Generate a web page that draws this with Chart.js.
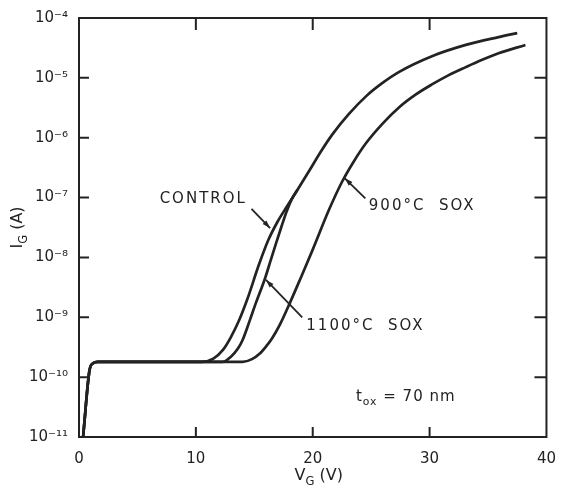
<!DOCTYPE html>
<html>
<head>
<meta charset="utf-8">
<script src="https://cdn.jsdelivr.net/npm/chart.js@4.4.0/dist/chart.umd.min.js"></script>
<style>
  html, body { margin: 0; padding: 0; background: #fff; }
</style>
</head>
<body>
<canvas id="igChart" width="561" height="491"></canvas>
<script>
// gate current vs gate voltage
const control_v = [0.35, 0.9, 1.2, 1.6, 6, 10.5, 11.5, 12.3, 13.0, 13.7, 14.4, 15.4, 16.2, 17.0, 17.75, 18.7, 19.7, 20.7, 21.7, 23.1, 24.6, 26.0, 27.4, 30.2, 33.1, 35.9, 37.5]
const control_i = [1e-11, 1.3e-10, 1.7e-10, 1.8e-10, 1.8e-10, 1.8e-10, 2.04e-10, 2.82e-10, 4.68e-10, 8.9e-10, 2.0e-9, 7.6e-9, 1.95e-8, 3.98e-8, 6.9e-8, 1.35e-7, 2.8e-7, 5.9e-7, 1.15e-6, 2.5e-6, 5.0e-6, 8.3e-6, 1.26e-5, 2.3e-5, 3.55e-5, 4.8e-5, 5.6e-5]

const sox1100_v = [0.35, 0.9, 1.2, 1.6, 6, 12.3, 13.0, 13.6, 14.0, 14.6, 15.1, 15.9, 16.4, 16.9, 17.3, 17.75, 18.2, 18.7]
const sox1100_i = [1e-11, 1.3e-10, 1.7e-10, 1.8e-10, 1.8e-10, 1.8e-10, 2.19e-10, 3.0e-10, 4.17e-10, 8.7e-10, 1.66e-9, 4.37e-9, 8.9e-9, 1.82e-8, 3.16e-8, 5.75e-8, 9.3e-8, 1.35e-7]

const sox900_v = [0.35, 0.9, 1.2, 1.6, 6, 14.0, 14.8, 15.5, 16.0, 16.5, 17.2, 18.0, 19.0, 20.0, 21.4, 22.5, 23.5, 24.6, 26.0, 27.4, 28.8, 30.2, 31.6, 33.1, 34.5, 35.9, 38.2]
const sox900_i = [1e-11, 1.3e-10, 1.7e-10, 1.8e-10, 1.8e-10, 1.8e-10, 2.0e-10, 2.51e-10, 3.24e-10, 4.37e-10, 7.6e-10, 1.66e-9, 4.68e-9, 1.35e-8, 6.3e-8, 1.82e-7, 3.98e-7, 8.3e-7, 1.74e-6, 3.24e-6, 5.25e-6, 7.76e-6, 1.1e-5, 1.51e-5, 2.0e-5, 2.57e-5, 3.55e-5]

const x_ticks = [0, 10, 20, 30, 40]
const y_ticks = [1e-11, 1e-10, 1e-9, 1e-8, 1e-7, 1e-6, 1e-5, 1e-4]

// callouts, anchored in data units (V, A)
const callouts = [
  { text: 'CONTROL', at: [6.9, 9.5e-8], from: [14.76, 6.5e-8], to: [16.35, 3.1e-8] },
  { text: '900°C  SOX', at: [24.8, 7.2e-8], from: [24.5, 9.7e-8], to: [22.75, 2.1e-7] },
  { text: '1100°C  SOX', at: [19.45, 7.1e-10], from: [19.1, 1.0e-9], to: [16.0, 4.2e-9] },
]

const ink = '#232323'
const font_family = "'DejaVu Sans', sans-serif"

const sup = { '-': '\u207B', '0': '\u2070', '1': '\u00B9', '2': '\u00B2', '3': '\u00B3', '4': '\u2074',
  '5': '\u2075', '6': '\u2076', '7': '\u2077', '8': '\u2078', '9': '\u2079' }

function pairs(xs, ys) {
  return xs.map((v, i) => ({ x: v, y: ys[i] }))
}

function curve(label, xs, ys) {
  return {
    label: label,
    data: pairs(xs, ys),
    borderColor: ink,
    borderWidth: 2.7,
    pointRadius: 0,
    fill: false,
    showLine: true,
    cubicInterpolationMode: 'monotone',
  }
}

// draws text made of [string, isSubscript] pieces
function drawPieces(ctx, pieces, x, y, size, align) {
  const widths = pieces.map(p => {
    ctx.font = (p[1] ? size * 0.72 : size) + 'px ' + font_family
    return ctx.measureText(p[0]).width
  })
  const total = widths.reduce((a, b) => a + b, 0)
  let cx = align === 'center' ? x - total / 2 : x
  pieces.forEach((p, i) => {
    ctx.font = (p[1] ? size * 0.72 : size) + 'px ' + font_family
    ctx.fillText(p[0], cx, p[1] ? y + size * 0.35 : y)
    cx += widths[i]
  })
}

function arrow(ctx, x1, y1, x2, y2) {
  ctx.beginPath()
  ctx.moveTo(x1, y1)
  ctx.lineTo(x2, y2)
  ctx.stroke()
  const ang = Math.atan2(y2 - y1, x2 - x1)
  const len = 8, half = 2.6
  ctx.beginPath()
  ctx.moveTo(x2, y2)
  ctx.lineTo(x2 - len * Math.cos(ang) + half * Math.sin(ang), y2 - len * Math.sin(ang) - half * Math.cos(ang))
  ctx.lineTo(x2 - len * Math.cos(ang) - half * Math.sin(ang), y2 - len * Math.sin(ang) + half * Math.cos(ang))
  ctx.closePath()
  ctx.fill()
}

const overlay = {
  id: 'overlay',
  afterDraw(chart) {
    const ctx = chart.ctx
    const a = chart.chartArea
    const x = chart.scales.x
    const y = chart.scales.y
    ctx.save()
    ctx.strokeStyle = ink
    ctx.fillStyle = ink
    ctx.lineWidth = 2

    // frame
    ctx.strokeRect(a.left, a.top, a.right - a.left, a.bottom - a.top)

    // inward tick marks on all four sides
    ctx.beginPath()
    x.ticks.forEach(t => {
      if (t.value <= x.min || t.value >= x.max) return
      const px = x.getPixelForValue(t.value)
      ctx.moveTo(px, a.bottom); ctx.lineTo(px, a.bottom - 10)
      ctx.moveTo(px, a.top); ctx.lineTo(px, a.top + 12)
    })
    y.ticks.forEach(t => {
      if (t.value <= y.min || t.value >= y.max) return
      const py = y.getPixelForValue(t.value)
      ctx.moveTo(a.left, py); ctx.lineTo(a.left + 10, py)
      ctx.moveTo(a.right, py); ctx.lineTo(a.right - 12, py)
    })
    ctx.stroke()

    // axis titles
    ctx.textBaseline = 'middle'
    drawPieces(ctx, [['V', false], ['G', true], [' (V)', false]], (a.left + a.right) / 2 + 6, 476, 16, 'center')
    ctx.save()
    ctx.translate(18, (a.top + a.bottom) / 2)
    ctx.rotate(-Math.PI / 2)
    drawPieces(ctx, [['I', false], ['G', true], [' (A)', false]], 0, 0, 16, 'center')
    ctx.restore()

    // callouts
    ctx.lineWidth = 1.8
    ctx.letterSpacing = '2px'
    callouts.forEach(c => {
      ctx.font = '15px ' + font_family
      ctx.textAlign = 'left'
      ctx.fillText(c.text, x.getPixelForValue(c.at[0]), y.getPixelForValue(c.at[1]))
      arrow(ctx, x.getPixelForValue(c.from[0]), y.getPixelForValue(c.from[1]),
        x.getPixelForValue(c.to[0]), y.getPixelForValue(c.to[1]))
    })
    ctx.letterSpacing = '1px'
    drawPieces(ctx, [['t', false], ['ox', true], [' = 70 nm', false]],
      x.getPixelForValue(23.7), y.getPixelForValue(4.7e-11), 15, 'left')
    ctx.restore()
  }
}

new Chart(
  document.getElementById('igChart'),
  {
    type: 'scatter',
    data: {
      datasets: [
        curve('CONTROL', control_v, control_i),
        curve('1100°C SOX', sox1100_v, sox1100_i),
        curve('900°C SOX', sox900_v, sox900_i),
      ]
    },
    options: {
      responsive: false,
      animation: false,
      devicePixelRatio: 1,
      layout: { padding: { top: 18, right: 14, left: 0, bottom: 0 } },
      plugins: {
        legend: { display: false },
        tooltip: { enabled: false },
      },
      scales: {
        x: {
          type: 'linear',
          min: 0,
          max: 40,
          afterBuildTicks: (s) => { s.ticks = x_ticks.map(v => ({ value: v })) },
          afterFit: (s) => { s.height = 54 },
          grid: { display: false },
          border: { display: false },
          ticks: { color: ink, padding: 5, font: { family: font_family, size: 15 } },
        },
        y: {
          type: 'logarithmic',
          min: 1e-11,
          max: 1e-4,
          afterBuildTicks: (s) => { s.ticks = y_ticks.map(v => ({ value: v })) },
          afterFit: (s) => { s.width = 79 },
          grid: { display: false },
          border: { display: false },
          ticks: {
            color: ink,
            padding: 3,
            font: { family: font_family, size: 15 },
            callback: (value) => '10' + String(Math.round(Math.log10(value))).split('').map(c => sup[c]).join(''),
          },
        },
      },
    },
    plugins: [overlay],
  }
);
</script>
</body>
</html>
